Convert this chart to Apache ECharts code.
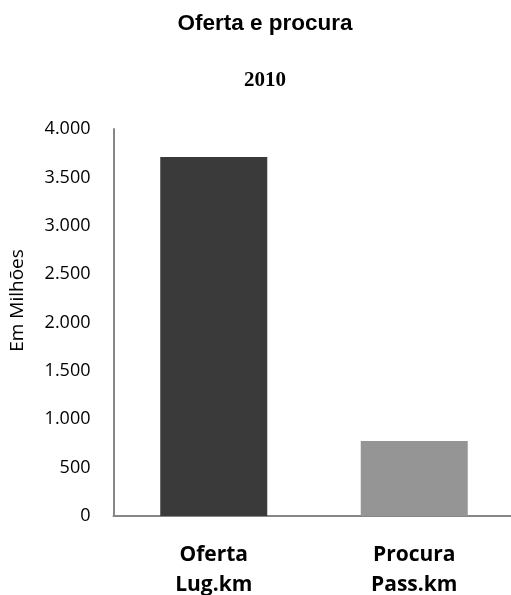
<!DOCTYPE html>
<html>
<head>
<meta charset="utf-8">
<script src="https://cdn.jsdelivr.net/npm/echarts@6/dist/echarts.min.js"></script>
<style>html,body{margin:0;padding:0;background:#fff;}#c{width:511px;height:595px;}</style>
</head>
<body>
<div id="c"></div>
<script>
const categories = ['Oferta\nLug.km', 'Procura\nPass.km'];
const values = [3710, 775];
const barColors = ['#3a3a3a', '#959595'];
const yTicks = { min: 0, max: 4000, interval: 500 };
const chartTitle = 'Oferta e procura';
const chartSubtitle = '2010';
const yName = 'Em Milhões';

const chart = echarts.init(document.getElementById('c'), null, { renderer: 'canvas' });
chart.setOption({
  animation: false,
  backgroundColor: '#ffffff',
  title: [
    { text: chartTitle, left: 265, top: 12, padding: 0, textAlign: 'center',
      textStyle: { fontFamily: 'Liberation Sans', fontWeight: 'bold', fontSize: 22.5, color: '#000' } },
    { text: chartSubtitle, left: 265, top: 70, padding: 0, textAlign: 'center',
      textStyle: { fontFamily: 'Liberation Serif', fontWeight: 'bold', fontSize: 21, color: '#000' } }
  ],
  grid: { left: 113.5, top: 129, width: 401, height: 387, containLabel: false, outerBoundsMode: 'none' },
  xAxis: {
    type: 'category',
    data: categories,
    axisLine: { lineStyle: { color: '#868686', width: 2 } },
    axisTick: { show: false },
    axisLabel: { margin: 24, fontFamily: 'Open Sans', fontWeight: 'bold', fontSize: 21, color: '#000', lineHeight: 30 }
  },
  yAxis: {
    type: 'value',
    min: yTicks.min, max: yTicks.max, interval: yTicks.interval,
    name: yName, nameLocation: 'middle', nameRotate: 90, nameGap: 86,
    nameTextStyle: { fontFamily: 'Open Sans', fontSize: 19, color: '#000', padding: [0, 0, 0, 44] },
    axisLine: { show: true, lineStyle: { color: '#868686', width: 2 } },
    axisTick: { show: false },
    splitLine: { show: false },
    axisLabel: {
      margin: 23, fontFamily: 'Open Sans', fontSize: 18, color: '#000',
      formatter: v => String(v).replace(/\B(?=(\d{3})+(?!\d))/g, '.')
    }
  },
  series: [{
    type: 'bar',
    barWidth: 107,
    data: values.map((v, i) => ({ value: v, itemStyle: { color: barColors[i] } }))
  }]
});
</script>
</body>
</html>
